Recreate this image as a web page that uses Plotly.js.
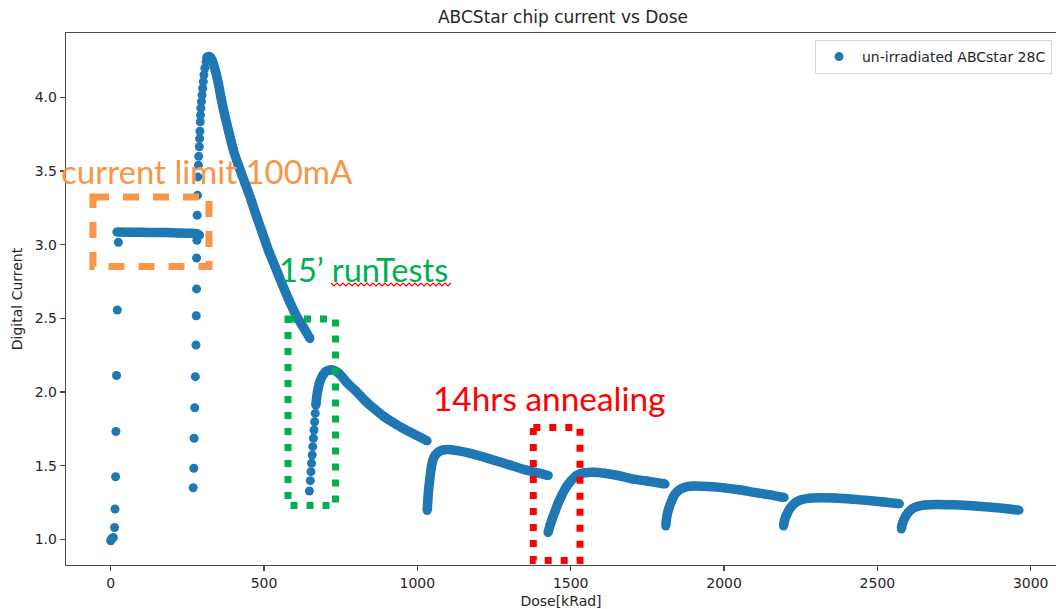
<!DOCTYPE html>
<html>
<head>
<meta charset="utf-8">
<script src="https://cdn.plot.ly/plotly-3.0.1.min.js"></script>
<style>
  html, body { margin: 0; padding: 0; background: #ffffff; }
  #chart { width: 1056px; height: 609px; }
</style>
</head>
<body>
<div id="chart"></div>
<script>
// ---------------- data ----------------
// initial ramp (sparse points)
const dose0 = [0, 2, 4, 8.6, 12.5, 14, 16, 17, 19, 21.5, 25];
const cur0  = [0.99, 1.0, 1.005, 1.012, 1.08, 1.206, 1.425, 1.732, 2.112, 2.557, 3.016];
// current-limited plateau
const dose1 = [20, 60, 100, 140, 180, 220, 260, 280, 290];
const cur1  = [3.086, 3.085, 3.084, 3.083, 3.082, 3.080, 3.078, 3.075, 3.065];
// ramp up to the peak (sparse points)
const dose2 = [269, 271, 272, 274, 276, 278, 279, 280, 280, 281, 282, 283, 284, 286, 287, 289, 290, 291, 292, 293, 294, 296, 298, 300, 302, 304, 307, 311];
const cur2  = [1.35, 1.482, 1.686, 1.893, 2.104, 2.319, 2.518, 2.70, 2.91, 3.03, 3.20, 3.335, 3.46, 3.54, 3.60, 3.665, 3.72, 3.77, 3.835, 3.88, 3.926, 3.971, 4.016, 4.062, 4.107, 4.152, 4.198, 4.242];
// peak and first decay
const dose3 = [313, 319, 325, 331, 337, 345, 351, 361, 373, 386, 400, 418, 438, 458, 476, 495, 514, 536, 558, 581, 607, 630, 650];
const cur3  = [4.272, 4.278, 4.272, 4.250, 4.213, 4.152, 4.096, 3.983, 3.869, 3.758, 3.643, 3.530, 3.417, 3.303, 3.190, 3.077, 2.964, 2.851, 2.738, 2.625, 2.511, 2.434, 2.362];
// after runTests: sparse start of the rise
const dose4a = [648, 651, 653, 655, 657, 659, 661, 663, 665, 667];
const cur4a  = [1.328, 1.398, 1.459, 1.516, 1.572, 1.629, 1.686, 1.742, 1.798, 1.855];
// second rise and decay
const dose4 = [669, 672, 677, 683, 692, 702, 715, 730, 745, 770, 800, 830, 860, 890, 920, 950, 980, 1010, 1032];
const cur4  = [1.91, 1.97, 2.03, 2.075, 2.115, 2.14, 2.15, 2.145, 2.125, 2.065, 2.005, 1.94, 1.885, 1.835, 1.795, 1.757, 1.724, 1.692, 1.668];
// later irradiation steps
const dose5 = [1032, 1034, 1036, 1040, 1045, 1050, 1058, 1070, 1085, 1100, 1130, 1170, 1210, 1250, 1300, 1350, 1400, 1427];
const cur5  = [1.195, 1.26, 1.32, 1.40, 1.48, 1.535, 1.57, 1.595, 1.607, 1.61, 1.602, 1.585, 1.562, 1.537, 1.505, 1.473, 1.447, 1.433];
const dose6 = [1426, 1432, 1440, 1448, 1458, 1470, 1484, 1500, 1520, 1545, 1575, 1610, 1650, 1700, 1750, 1808];
const cur6  = [1.045, 1.09, 1.14, 1.185, 1.24, 1.295, 1.35, 1.395, 1.435, 1.452, 1.455, 1.448, 1.435, 1.41, 1.395, 1.375];
const dose7 = [1810, 1812, 1815, 1820, 1828, 1835, 1848, 1862, 1880, 1900, 1950, 2000, 2050, 2100, 2150, 2196];
const cur7  = [1.09, 1.13, 1.17, 1.21, 1.255, 1.29, 1.325, 1.345, 1.357, 1.362, 1.358, 1.349, 1.336, 1.318, 1.302, 1.284];
const dose8 = [2194, 2196, 2199, 2205, 2212, 2222, 2235, 2252, 2275, 2310, 2360, 2420, 2470, 2520, 2572];
const cur8  = [1.09, 1.115, 1.14, 1.17, 1.20, 1.228, 1.252, 1.268, 1.278, 1.282, 1.28, 1.272, 1.263, 1.253, 1.241];
const dose9 = [2578, 2581, 2586, 2592, 2600, 2612, 2630, 2655, 2690, 2750, 2810, 2870, 2930, 2962];
const cur9  = [1.07, 1.10, 1.13, 1.155, 1.18, 1.205, 1.222, 1.233, 1.237, 1.234, 1.228, 1.218, 1.206, 1.198];

const xTicks = [0, 500, 1000, 1500, 2000, 2500, 3000];
const yTicks = [1.0, 1.5, 2.0, 2.5, 3.0, 3.5, 4.0];
const seriesName = 'un-irradiated ABCstar 28C';
const chartTitle = 'ABCStar chip current vs Dose';

// ---------------- build traces ----------------
const allX = [].concat(dose0, dose1, dose2, dose3, dose4a, dose4, dose5, dose6, dose7, dose8, dose9);
const allY = [].concat(cur0, cur1, cur2, cur3, cur4a, cur4, cur5, cur6, cur7, cur8, cur9);

const denseX = [], denseY = [];
[[dose1, cur1], [dose3, cur3], [dose4, cur4], [dose5, cur5], [dose6, cur6], [dose7, cur7], [dose8, cur8], [dose9, cur9]]
  .forEach(function (s) {
    denseX.push.apply(denseX, s[0]); denseY.push.apply(denseY, s[1]);
    denseX.push(null); denseY.push(null);
  });

const blue = '#1f77b4';
const traces = [
  { x: denseX, y: denseY, type: 'scatter', mode: 'lines', connectgaps: false,
    line: { color: blue, width: 9.5, shape: 'spline', smoothing: 0.6 },
    showlegend: false, hoverinfo: 'skip' },
  { x: allX, y: allY, type: 'scatter', mode: 'markers', name: seriesName,
    marker: { color: blue, size: 9 } }
];

// ---------------- layout helpers (pixel -> paper) ----------------
const L = 66, R = 1056, T = 33, B = 565;
const PX = p => (p - L) / (R - L);
const PY = p => (B - p) / (B - T);

function rect(x0, y0, x1, y1, color, dash) {
  return { type: 'rect', xref: 'paper', yref: 'paper',
    x0: PX(x0), x1: PX(x1), y0: PY(y0), y1: PY(y1),
    line: { color: color, width: 7, dash: dash }, fillcolor: 'rgba(0,0,0,0)' };
}

// spell-check squiggle under "runTests"
let sq = '';
for (let i = 0, px = 331; px <= 451; px += 3, i++) {
  const py = (i % 2 === 0) ? 283 : 286;
  sq += (i === 0 ? 'M' : 'L') + PX(px).toFixed(5) + ',' + PY(py).toFixed(5) + ' ';
}

const shapes = [
  rect(93, 197, 209, 266.5, '#F79646', '16px,14px'),
  rect(288, 319, 335.5, 505.5, '#00B050', '7px,9px'),
  rect(533.3, 427.5, 580, 560.5, '#FF0000', '7px,9px'),
  { type: 'path', xref: 'paper', yref: 'paper', path: sq, line: { color: '#FF0000', width: 1.2 } }
];

const annFont = 'Lato, "Open Sans", sans-serif';
const annotations = [
  { text: 'current limit 100mA', xref: 'paper', yref: 'paper', x: PX(59), y: PY(171),
    xanchor: 'left', yanchor: 'middle', showarrow: false,
    font: { family: annFont, size: 33, color: '#F79646' } },
  { text: '15’ runTests', xref: 'paper', yref: 'paper', x: PX(277), y: PY(269),
    xanchor: 'left', yanchor: 'middle', showarrow: false,
    font: { family: annFont, size: 32.6, color: '#00B050' } },
  { text: '14hrs annealing', xref: 'paper', yref: 'paper', x: PX(431), y: PY(398),
    xanchor: 'left', yanchor: 'middle', showarrow: false,
    font: { family: annFont, size: 33.4, color: '#FF0000' } }
];

const tickFont = { family: '"DejaVu Sans", sans-serif', size: 14, color: '#262626' };
const spine = '#4a4a4a';

const layout = {
  width: 1056, height: 609,
  margin: { l: L, r: 1056 - R, t: T, b: 609 - B, pad: 0 },
  paper_bgcolor: '#ffffff', plot_bgcolor: '#ffffff',
  title: { text: chartTitle, xref: 'container', yref: 'container',
    x: 563 / 1056, y: 1 - 17 / 609, xanchor: 'center', yanchor: 'middle',
    font: { family: '"DejaVu Sans", sans-serif', size: 17, color: '#262626' } },
  xaxis: {
    range: [(L - 110.7) / 0.30667, (R - 110.7) / 0.30667],
    tickvals: xTicks, ticktext: xTicks.map(String),
    showgrid: false, zeroline: false,
    showline: true, linecolor: spine, linewidth: 1.3, mirror: true,
    ticks: 'outside', ticklen: 5, tickwidth: 1.2, tickcolor: spine,
    tickfont: tickFont,
    title: { text: 'Dose[kRad]', font: tickFont, standoff: 6 }
  },
  yaxis: {
    range: [1 - (B - 539.3) / 147.3, 1 + (539.3 - T) / 147.3],
    tickvals: yTicks, ticktext: yTicks.map(v => v.toFixed(1)),
    showgrid: false, zeroline: false,
    showline: true, linecolor: spine, linewidth: 1.3, mirror: false,
    ticks: 'outside', ticklen: 5, tickwidth: 1.2, tickcolor: spine,
    tickfont: tickFont,
    title: { text: 'Digital Current', font: tickFont, standoff: 8 }
  },
  showlegend: true,
  legend: { x: PX(815), y: PY(40), xanchor: 'left', yanchor: 'top',
    itemwidth: 36,
    bgcolor: '#ffffff', bordercolor: '#d6d6d6', borderwidth: 1,
    font: { family: '"DejaVu Sans", sans-serif', size: 14, color: '#262626' } },
  shapes: shapes,
  annotations: annotations
};

Plotly.newPlot('chart', traces, layout, { displayModeBar: false, staticPlot: true });
</script>
</body>
</html>
